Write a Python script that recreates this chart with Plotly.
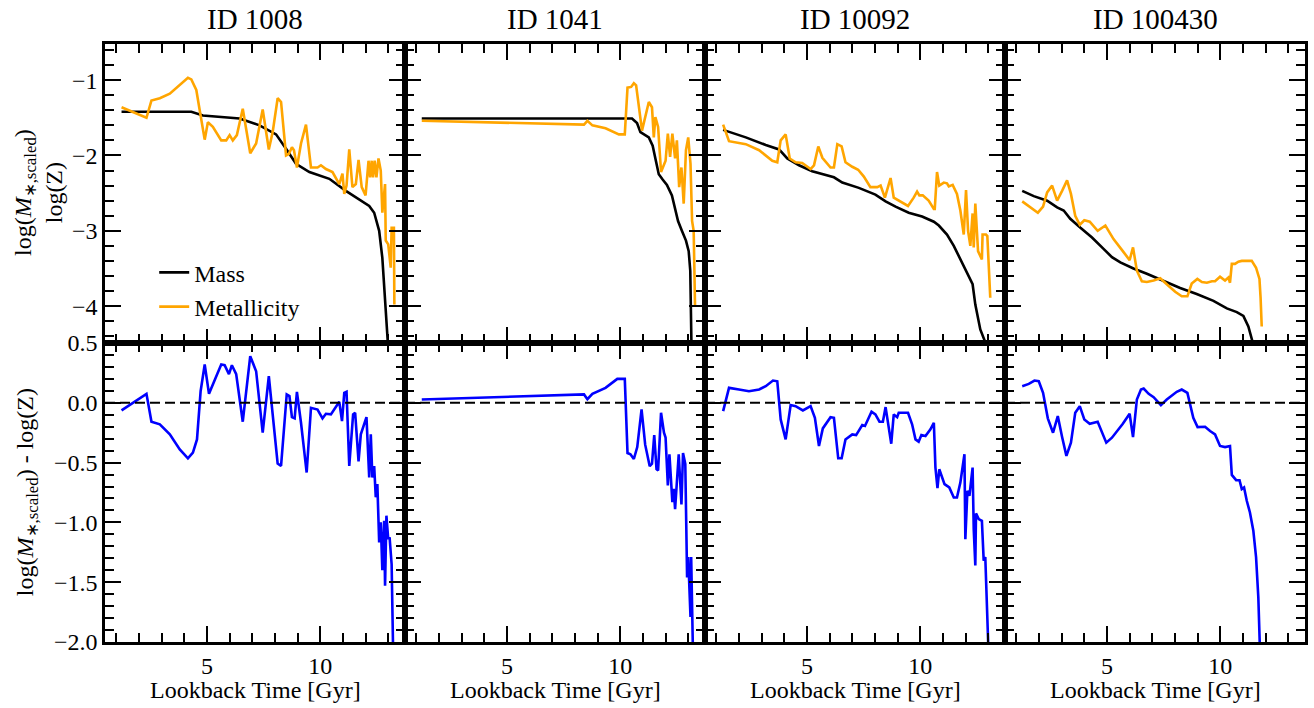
import plotly.graph_objects as go
from plotly.subplots import make_subplots

# ---------------- data ----------------
ids = ["ID 1008", "ID 1041", "ID 10092", "ID 100430"]

# ID 1008
t_mass_1008 = [1.23, 4.31, 4.82, 6.44, 7.32, 8.05, 8.49, 8.93, 9.52, 10.4, 11.13, 11.72, 12.16, 12.38, 12.6, 12.74, 12.86, 13.0, 13.05]
mass_1008 = [-1.42, -1.42, -1.47, -1.51, -1.6, -1.72, -1.91, -2.11, -2.22, -2.31, -2.47, -2.58, -2.67, -2.76, -3.0, -3.36, -3.89, -4.49, -4.8]
t_met_1008 = [1.23, 2.33, 2.55, 2.92, 3.36, 3.8, 4.16, 4.31, 4.53, 4.68, 4.9, 5.04, 5.26, 5.63, 5.85, 6.0, 6.14, 6.32, 6.58, 6.91,
              7.17, 7.46, 7.73, 7.9, 8.12, 8.27, 8.49, 8.61, 8.75, 8.84, 8.97, 9.15, 9.37, 9.59, 9.88, 10.03, 10.25, 10.54, 10.84, 10.98,
              11.06, 11.16, 11.28, 11.42, 11.57, 11.69, 11.83, 12.0, 12.13, 12.2, 12.27, 12.33, 12.4, 12.48, 12.57, 12.67, 12.74, 12.86, 12.89, 13.0,
              13.11, 13.15, 13.25, 13.27]
met_1008 = [-1.36, -1.5, -1.27, -1.24, -1.18, -1.07, -0.97, -0.99, -1.13, -1.4, -1.79, -1.56, -1.62, -1.8, -1.8, -1.73, -1.8, -1.73, -1.38, -1.97,
            -1.84, -1.39, -1.92, -1.69, -1.24, -1.29, -2.0, -1.98, -1.89, -1.93, -2.16, -1.84, -1.59, -2.16, -2.16, -2.13, -2.18, -2.22, -2.38, -2.24,
            -2.51, -2.4, -1.92, -2.42, -2.38, -2.06, -2.42, -2.53, -2.07, -2.29, -2.07, -2.29, -2.07, -2.29, -2.04, -2.2, -2.76, -2.38, -3.13, -3.18,
            -3.49, -2.96, -2.96, -3.98]
t_diff_1008 = [1.23, 2.33, 2.55, 2.92, 3.36, 3.8, 4.16, 4.38, 4.56, 4.72, 4.9, 5.09, 5.38, 5.63, 5.78, 5.97, 6.1, 6.29, 6.58, 6.91,
               7.17, 7.46, 7.73, 7.9, 8.12, 8.27, 8.52, 8.64, 8.75, 8.87, 8.97, 9.15, 9.4, 9.59, 9.88, 10.1, 10.25, 10.47, 10.84, 10.96,
               11.06, 11.16, 11.28, 11.45, 11.54, 11.69, 11.79, 12.04, 12.16, 12.23, 12.3, 12.38, 12.45, 12.52, 12.6, 12.67, 12.74, 12.82, 12.86, 12.92,
               13.0, 13.06, 13.15, 13.21, 13.24]
diff_1008 = [-0.064, 0.075, -0.158, -0.18, -0.264, -0.39, -0.464, -0.417, -0.306, 0.097, 0.32, 0.075, 0.208, 0.32, 0.314, 0.24, 0.314, 0.24, -0.158, 0.39,
             0.264, -0.25, 0.222, -0.097, -0.508, -0.528, 0.07, 0.056, -0.12, -0.13, 0.092, -0.167, -0.583, -0.042, -0.056, -0.13, -0.092, -0.097, 0.008, -0.153,
             0.083, 0.092, -0.528, -0.097, -0.083, -0.49, -0.264, -0.12, -0.625, -0.264, -0.625, -0.528, -0.79, -0.68, -1.167, -1.0, -1.4, -0.986, -1.53, -0.944,
             -1.14, -1.125, -1.35, -2.01, -2.3]

# ID 1041
t_mass_1041 = [1.24, 10.52, 10.74, 10.89, 11.26, 11.43, 11.55, 11.7, 11.87, 12.06, 12.28, 12.55, 12.72, 12.9, 13.02, 13.09, 13.14, 13.15]
mass_1041 = [-1.51, -1.51, -1.57, -1.69, -1.76, -1.87, -2.04, -2.25, -2.32, -2.39, -2.53, -2.87, -3.0, -3.13, -3.27, -3.53, -4.47, -4.8]
t_met_1041 = [1.24, 8.4, 8.55, 8.77, 9.35, 9.94, 10.2, 10.32, 10.48, 10.6, 10.7, 10.96, 11.26, 11.4, 11.48, 11.55, 11.67, 11.8, 12.0, 12.1,
              12.2, 12.3, 12.42, 12.5, 12.6, 12.7, 12.8, 12.9, 13.0, 13.1, 13.17, 13.24, 13.3]
met_1041 = [-1.54, -1.59, -1.54, -1.6, -1.64, -1.72, -1.72, -1.1, -1.09, -1.04, -1.07, -1.67, -1.29, -1.36, -1.76, -1.49, -1.62, -2.22, -2.07, -1.71,
            -2.02, -1.71, -2.04, -1.8, -2.42, -2.16, -2.64, -1.93, -1.76, -2.11, -2.87, -3.0, -4.0]
t_diff_1041 = [1.24, 8.4, 8.55, 8.77, 9.35, 9.87, 10.2, 10.32, 10.45, 10.6, 10.75, 10.94, 11.1, 11.3, 11.4, 11.5, 11.6, 11.67, 11.8, 11.93,
               12.0, 12.1, 12.17, 12.3, 12.36, 12.42, 12.58, 12.7, 12.77, 12.87, 12.95, 13.0, 13.1, 13.13, 13.2, 13.22]
diff_1041 = [0.028, 0.07, 0.03, 0.075, 0.125, 0.2, 0.2, -0.42, -0.43, -0.47, -0.37, -0.055, -0.35, -0.53, -0.51, -0.27, -0.555, -0.565, -0.083, -0.25,
             -0.29, -0.69, -0.43, -0.83, -0.72, -0.89, -0.43, -0.85, -0.42, -0.51, -1.46, -1.29, -1.79, -1.29, -2.0, -2.3]

# ID 10092
t_mass_10092 = [1.3, 2.3, 3.18, 3.77, 4.13, 4.65, 5.23, 5.68, 6.19, 6.56, 7.29, 8.02, 8.47, 8.91, 9.49, 10.08, 10.6, 10.82, 11.18, 11.48,
                11.77, 11.99, 12.31, 12.43, 12.65, 12.87, 12.95]
mass_10092 = [-1.66, -1.76, -1.86, -1.92, -2.04, -2.13, -2.21, -2.25, -2.29, -2.36, -2.43, -2.52, -2.61, -2.68, -2.76, -2.81, -2.88, -2.93, -3.05, -3.2,
              -3.38, -3.52, -3.71, -3.98, -4.31, -4.48, -4.7]
t_met_10092 = [1.3, 1.56, 2.3, 2.89, 3.47, 3.69, 3.84, 4.06, 4.24, 4.5, 4.79, 5.16, 5.31, 5.5, 5.68, 6.04, 6.19, 6.34, 6.53, 6.7,
               7.0, 7.26, 7.51, 7.8, 8.1, 8.25, 8.44, 8.69, 8.83, 9.05, 9.46, 9.71, 9.86, 9.96, 10.11, 10.37, 10.6, 10.64, 10.74, 10.84,
               11.04, 11.18, 11.26, 11.43, 11.62, 11.77, 11.92, 12.02, 12.11, 12.21, 12.31, 12.36, 12.43, 12.55, 12.72, 12.75, 12.9, 12.96, 13.09]
met_10092 = [-1.59, -1.81, -1.85, -1.93, -2.07, -2.09, -1.8, -1.72, -2.04, -2.09, -2.1, -2.18, -2.13, -1.88, -2.03, -2.16, -2.16, -1.85, -1.88, -2.09,
             -2.15, -2.19, -2.28, -2.42, -2.42, -2.4, -2.56, -2.3, -2.56, -2.6, -2.67, -2.56, -2.48, -2.53, -2.53, -2.6, -2.71, -2.71, -2.22, -2.4,
             -2.36, -2.37, -2.41, -2.39, -2.51, -2.73, -3.05, -2.46, -3.0, -3.2, -2.77, -3.22, -2.64, -3.27, -3.38, -3.05, -3.05, -3.07, -3.89]
t_diff_10092 = [1.3, 1.56, 2.0, 2.44, 2.89, 3.18, 3.5, 3.69, 3.84, 4.06, 4.28, 4.5, 4.82, 5.16, 5.35, 5.53, 5.7, 6.04, 6.19, 6.38,
                6.53, 6.7, 7.0, 7.17, 7.44, 7.56, 7.85, 8.02, 8.2, 8.35, 8.47, 8.72, 8.83, 8.98, 9.05, 9.46, 9.64, 9.79, 9.93, 10.05,
                10.23, 10.45, 10.6, 10.67, 10.76, 10.84, 11.07, 11.28, 11.48, 11.62, 11.77, 11.95, 11.99, 12.08, 12.17, 12.31, 12.36, 12.43, 12.46, 12.58,
                12.72, 12.8, 12.87, 13.02, 13.05]
diff_10092 = [-0.07, 0.125, 0.111, 0.097, 0.111, 0.139, 0.186, 0.18, -0.139, -0.306, -0.019, -0.028, -0.064, -0.028, -0.125, -0.361, -0.214, -0.12, -0.125, -0.464,
              -0.464, -0.306, -0.264, -0.27, -0.186, -0.194, -0.075, -0.097, -0.158, -0.158, -0.036, -0.342, -0.097, -0.12, -0.083, -0.083, -0.18, -0.306, -0.325, -0.27,
              -0.278, -0.222, -0.167, -0.542, -0.714, -0.556, -0.68, -0.708, -0.792, -0.792, -0.667, -0.43, -1.14, -0.736, -0.778, -0.542, -1.056, -1.36, -0.925, -0.972,
              -0.986, -1.32, -1.29, -2.0, -2.3]

# ID 100430
t_mass_100430 = [1.26, 1.77, 2.36, 2.8, 3.09, 3.38, 3.83, 4.34, 4.85, 5.22, 5.59, 6.17, 6.76, 7.5, 8.23, 8.96, 9.7, 10.29, 10.73, 11.02,
                 11.24, 11.43, 11.5]
mass_100430 = [-2.47, -2.54, -2.6, -2.69, -2.73, -2.84, -2.96, -3.09, -3.24, -3.35, -3.42, -3.5, -3.57, -3.67, -3.76, -3.84, -3.93, -4.03, -4.08, -4.13,
               -4.27, -4.48, -4.7]
t_met_100430 = [1.26, 1.62, 1.95, 2.18, 2.36, 2.58, 2.8, 3.02, 3.24, 3.41, 3.6, 3.8, 4.0, 4.24, 4.59, 4.93, 5.29, 5.7, 6.0, 6.15,
                6.32, 6.54, 6.76, 7.06, 7.35, 7.64, 8.01, 8.3, 8.55, 8.74, 8.99, 9.19, 9.41, 9.63, 9.77, 9.99, 10.21, 10.36, 10.43, 10.51,
                10.65, 10.8, 10.95, 11.17, 11.39, 11.58, 11.73, 11.78, 11.83]
met_100430 = [-2.61, -2.69, -2.76, -2.68, -2.49, -2.4, -2.6, -2.47, -2.33, -2.51, -2.8, -2.92, -2.86, -2.88, -3.0, -2.93, -3.11, -3.27, -3.39, -3.22,
              -3.53, -3.67, -3.68, -3.66, -3.63, -3.71, -3.81, -3.87, -3.87, -3.7, -3.64, -3.68, -3.69, -3.67, -3.67, -3.61, -3.66, -3.62, -3.69, -3.44,
              -3.44, -3.41, -3.4, -3.4, -3.4, -3.49, -3.64, -3.89, -4.27]
t_diff_100430 = [1.26, 1.55, 1.8, 1.99, 2.18, 2.39, 2.62, 2.83, 3.02, 3.21, 3.41, 3.6, 3.8, 4.0, 4.24, 4.59, 4.97, 5.22, 5.7, 6.0,
                 6.15, 6.32, 6.5, 6.62, 6.84, 7.06, 7.38, 7.64, 8.08, 8.3, 8.55, 8.74, 8.81, 9.0, 9.33, 9.55, 9.77, 9.99, 10.21, 10.43,
                 10.51, 10.7, 10.85, 10.95, 11.05, 11.17, 11.31, 11.46, 11.58, 11.68, 11.76, 11.79]
diff_100430 = [0.139, 0.158, 0.186, 0.18, 0.083, -0.13, -0.25, -0.111, -0.286, -0.444, -0.333, -0.083, -0.028, -0.139, -0.175, -0.158, -0.333, -0.292, -0.175, -0.092,
               -0.286, 0.028, 0.111, 0.119, 0.075, 0.047, -0.019, 0.028, 0.092, 0.111, 0.083, -0.083, -0.125, -0.203, -0.2, -0.236, -0.264, -0.361, -0.37, -0.361,
               -0.603, -0.647, -0.647, -0.722, -0.708, -0.819, -0.917, -1.07, -1.29, -1.625, -2.0, -2.3]

t_mass = [t_mass_1008, t_mass_1041, t_mass_10092, t_mass_100430]
mass = [mass_1008, mass_1041, mass_10092, mass_100430]
t_met = [t_met_1008, t_met_1041, t_met_10092, t_met_100430]
met = [met_1008, met_1041, met_10092, met_100430]
t_diff = [t_diff_1008, t_diff_1041, t_diff_10092, t_diff_100430]
diff = [diff_1008, diff_1041, diff_10092, diff_100430]

x_range = [0.5, 13.74]
top_range = [-4.49, -0.52]
bot_range = [-2.0, 0.5]

# bottom-row y tick labels (one decimal, as in the reference)
bot_tickvals = [-2.0, -1.5, -1.0, -0.5, 0.0, 0.5]
bot_ticktext = ["\u22122.0", "\u22121.5", "\u22121.0", "\u22120.5", "0.0", "0.5"]
bot_minorvals = [round(-2.0 + 0.1 * k, 1) for k in range(26)]

# ---------------- figure ----------------
FONT = "Liberation Serif"
fig = make_subplots(rows=2, cols=4, horizontal_spacing=0, vertical_spacing=0)

for i in range(4):
    c = i + 1
    fig.add_trace(go.Scatter(x=t_mass[i], y=mass[i], mode="lines", name="Mass",
                             line=dict(color="black", width=2.6), showlegend=(i == 0)), row=1, col=c)
    fig.add_trace(go.Scatter(x=t_met[i], y=met[i], mode="lines", name="Metallicity",
                             line=dict(color="#FFA500", width=2.6), showlegend=(i == 0)), row=1, col=c)
    fig.add_trace(go.Scatter(x=t_diff[i], y=diff[i], mode="lines", name="diff",
                             line=dict(color="#0000FF", width=2.6), showlegend=False), row=2, col=c)
    fig.add_hline(y=0, line=dict(color="black", width=2, dash="10px,5px"), row=2, col=c)

for r in (1, 2):
    for c in range(1, 5):
        common = dict(showline=True, linecolor="black", linewidth=2.5, mirror="allticks",
                      ticks="inside", ticklen=16, tickwidth=2.2, tickcolor="black",
                      showgrid=False, zeroline=False)
        xfont = dict(family=FONT, size=24, color="black")
        # y labels exist on every column but are only visible on the first one
        yfont = dict(family=FONT, size=24, color=("black" if c == 1 else "rgba(0,0,0,0)"))
        fig.update_xaxes(range=x_range, dtick=5, showticklabels=(r == 2), tickfont=xfont,
                         minor=dict(ticks="inside", ticklen=9, tickwidth=2, tickcolor="black"),
                         row=r, col=c, **common)
        if r == 1:
            fig.update_yaxes(range=top_range, dtick=1, tickfont=yfont,
                             minor=dict(ticks="inside", ticklen=9, tickwidth=2, tickcolor="black"),
                             row=r, col=c, **common)
        else:
            fig.update_yaxes(range=bot_range, tickmode="array", tickvals=bot_tickvals, ticktext=bot_ticktext,
                             tickfont=yfont,
                             minor=dict(ticks="inside", ticklen=9, tickwidth=2, tickcolor="black",
                                        tickmode="array", tickvals=bot_minorvals),
                             row=r, col=c, **common)

# column centres in paper coordinates (4 equal columns, no spacing)
col_centres = [0.125, 0.375, 0.625, 0.875]
for i in range(4):
    fig.add_annotation(text=ids[i], xref="paper", x=col_centres[i], yref="paper", y=1.042,
                       xanchor="center", yanchor="middle", showarrow=False,
                       font=dict(family=FONT, size=29, color="black"))
    fig.add_annotation(text="Lookback Time [Gyr]", xref="paper", x=col_centres[i], yref="paper", y=-0.080,
                       xanchor="center", yanchor="middle", showarrow=False,
                       font=dict(family=FONT, size=24, color="black"))
fig.add_annotation(text="log(<i>M</i><sub>∗,scaled</sub>)<br>log(Z)", xref="paper", x=-0.0549,
                   yref="paper", y=0.751, xanchor="center", yanchor="middle", textangle=-90,
                   showarrow=False, font=dict(family=FONT, size=24, color="black"))
fig.add_annotation(text="log(<i>M</i><sub>∗,scaled</sub>) - log(Z)", xref="paper", x=-0.0648,
                   yref="paper", y=0.251, xanchor="center", yanchor="middle", textangle=-90,
                   showarrow=False, font=dict(family=FONT, size=24, color="black"))

fig.update_layout(
    width=1314, height=708,
    margin=dict(l=105, r=6, t=44, b=66),
    paper_bgcolor="white", plot_bgcolor="white",
    legend=dict(x=0.041, y=0.589, xanchor="left", yanchor="middle",
                font=dict(family=FONT, size=24, color="black")),
)

fig.write_html("out.html", config={"displayModeBar": False},
               post_script="document.body.style.margin='0px';")
